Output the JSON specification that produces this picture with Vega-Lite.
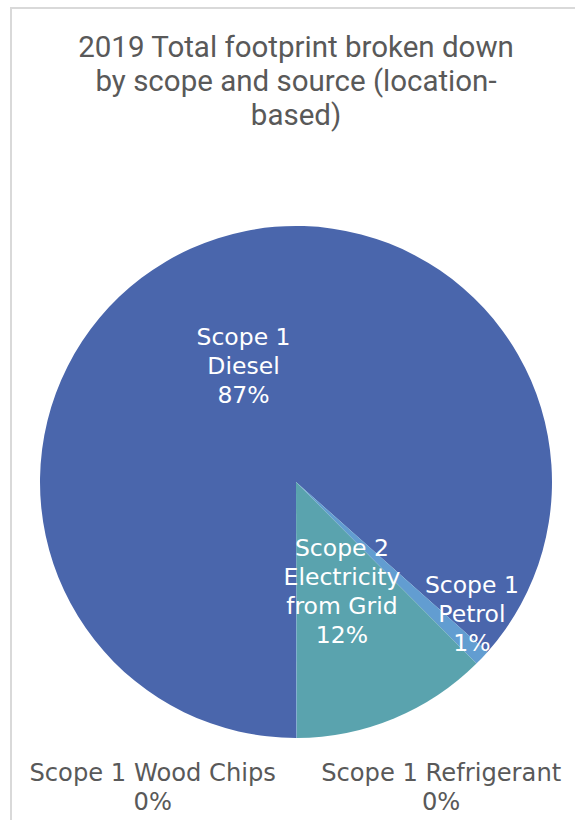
{
  "$schema": "https://vega.github.io/schema/vega-lite/v6.json",
  "autosize": "none",
  "width": 570,
  "height": 948,
  "padding": {"left": 11, "top": 8, "right": 0, "bottom": 0},
  "background": "white",
  "view": {"stroke": "#d9d9d9", "strokeWidth": 2, "fill": "white"},
  "title": {
    "text": ["2019 Total footprint broken down", "by scope and source (location-", "based)"],
    "font": "Roboto",
    "fontSize": 29.5,
    "fontWeight": "normal",
    "color": "#595959",
    "lineHeight": 34,
    "baseline": "alphabetic",
    "anchor": "middle",
    "frame": "group",
    "offset": -146
  },
  "data": {
    "values": [
      {"source": "Scope 1 Diesel", "value": 86.55, "order": 1, "label": "Scope 1\nDiesel\n87%"},
      {"source": "Scope 1 Petrol", "value": 1.0, "order": 2, "label": "Scope 1\nPetrol\n1%"},
      {"source": "Scope 2 Electricity from Grid", "value": 12.4, "order": 3, "label": "Scope 2\nElectricity\nfrom Grid\n12%"},
      {"source": "Scope 1 Refrigerant", "value": 0.03, "order": 4, "label": "Scope 1 Refrigerant\n0%"},
      {"source": "Scope 1 Wood Chips", "value": 0.02, "order": 5, "label": "Scope 1 Wood Chips\n0%"}
    ]
  },
  "encoding": {
    "theta": {"field": "value", "type": "quantitative", "stack": true, "scale": {"range": [3.141592653589793, 9.42477796076938]}},
    "order": {"field": "order", "type": "quantitative"}
  },
  "layer": [
    {
      "mark": {"type": "arc", "outerRadius": 256},
      "encoding": {
        "color": {
          "field": "source",
          "type": "nominal",
          "legend": null,
          "scale": {
            "domain": ["Scope 1 Diesel", "Scope 1 Petrol", "Scope 2 Electricity from Grid", "Scope 1 Refrigerant", "Scope 1 Wood Chips"],
            "range": ["#4a66ac", "#629dd1", "#5aa3ae", "#297fd5", "#7f8fa9"]
          }
        }
      }
    },
    {
      "mark": {"type": "text", "radius": 128, "dy": -27, "font": "DejaVu Sans", "fontSize": 23.5, "lineHeight": 29, "lineBreak": "\n", "color": "white", "align": "center", "baseline": "middle"},
      "encoding": {
        "text": {"condition": {"test": "datum.source === 'Scope 1 Diesel'", "field": "label"}, "value": ""}
      }
    },
    {
      "mark": {"type": "text", "radius": 120, "dy": -43.5, "font": "DejaVu Sans", "fontSize": 23.5, "lineHeight": 29, "lineBreak": "\n", "color": "white", "align": "center", "baseline": "middle"},
      "encoding": {
        "text": {"condition": {"test": "datum.source === 'Scope 2 Electricity from Grid'", "field": "label"}, "value": ""}
      }
    },
    {
      "mark": {"type": "text", "radius": 220, "dx": 16, "dy": -47, "font": "DejaVu Sans", "fontSize": 23.5, "lineHeight": 29, "lineBreak": "\n", "color": "white", "align": "center", "baseline": "middle"},
      "encoding": {
        "text": {"condition": {"test": "datum.source === 'Scope 1 Petrol'", "field": "label"}, "value": ""}
      }
    },
    {
      "mark": {"type": "text", "radius": 305, "dx": -143.5, "dy": -13, "font": "DejaVu Sans", "fontSize": 24.2, "lineHeight": 29.5, "lineBreak": "\n", "color": "#595959", "align": "center", "baseline": "middle"},
      "encoding": {
        "text": {"condition": {"test": "datum.source === 'Scope 1 Wood Chips'", "field": "label"}, "value": ""}
      }
    },
    {
      "mark": {"type": "text", "radius": 305, "dx": 144.5, "dy": -13, "font": "DejaVu Sans", "fontSize": 24.2, "lineHeight": 29.5, "lineBreak": "\n", "color": "#595959", "align": "center", "baseline": "middle"},
      "encoding": {
        "text": {"condition": {"test": "datum.source === 'Scope 1 Refrigerant'", "field": "label"}, "value": ""}
      }
    }
  ],
  "config": {
    "view": {"stroke": "#d9d9d9", "strokeWidth": 2}
  }
}
